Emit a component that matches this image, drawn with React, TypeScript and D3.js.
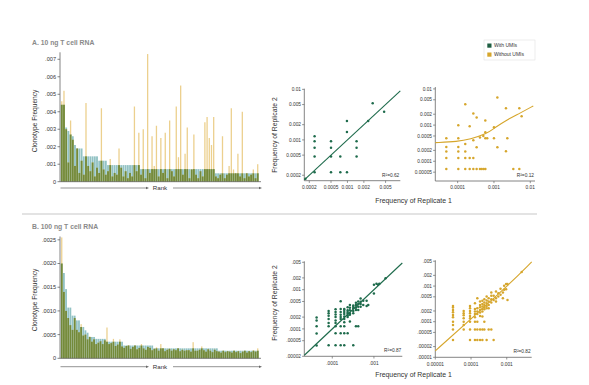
import React from "react";
import * as d3 from "d3";

const FONT = "'Liberation Sans', Arial, Helvetica, sans-serif";

// ---- rank-abundance bars, 10 ng ----
const withUmiA = [
  0.0044, 0.0044, 0.0031, 0.0029, 0.0027, 0.0026, 0.0021, 0.0019, 0.0019, 0.0019,
  0.00145, 0.00145, 0.00145, 0.00145, 0.00145, 0.00145, 0.00145, 0.0012, 0.0012, 0.0012,
  0.0012, 0.00095, 0.00095, 0.00095, 0.00095, 0.00095, 0.00095, 0.00095, 0.00095, 0.00095,
  0.00095, 0.00095, 0.00095, 0.00095, 0.00095, 0.00095, 0.00072, 0.00072, 0.00072, 0.00072,
  0.00072, 0.00072, 0.00072, 0.00072, 0.00072, 0.00072, 0.00072, 0.00072, 0.00072, 0.00072,
  0.00072, 0.00072, 0.00072, 0.00072, 0.00072, 0.00072, 0.00072, 0.00072, 0.00072, 0.00072,
  0.00072, 0.00072, 0.00072, 0.00072, 0.00072, 0.00072, 0.00072, 0.00072, 0.00072, 0.00072,
  0.00048, 0.00048, 0.00048, 0.00048, 0.00048, 0.00048, 0.00048, 0.00048, 0.00048, 0.00048,
  0.00048, 0.00048, 0.00048, 0.00048, 0.00048, 0.00048, 0.00048, 0.00048, 0.00048, 0.00048,
];
const withoutUmiA = [
  0.0046, 0.0052, 0.003, 0.0011, 0.0035, 0.0024, 0.0009, 0.0019, 0.0005, 0.0012,
  0.0004, 0.0045, 0.0009, 0.0006, 0.0011, 0.0003, 0.0008, 0.0005, 0.0042, 0.0007,
  0.0004, 0.0006, 0.0013, 0.0003, 0.0005, 0.0004, 0.0019, 0.0008, 0.0003, 0.0006,
  0.0002, 0.0005, 0.0003, 0.0043, 0.0006, 0.0028, 0.0004, 0.003, 0.0002, 0.0073,
  0.0005, 0.0026, 0.0009, 0.0032, 0.0003, 0.0025, 0.0005, 0.0028, 0.0002, 0.0035,
  0.0006, 0.0003, 0.0043, 0.0014, 0.0055, 0.0004, 0.0016, 0.0031, 0.0002, 0.0007,
  0.0027, 0.0004, 0.0002, 0.0006, 0.0003, 0.0034, 0.0037, 0.0025, 0.0021, 0.0037,
  0.0003, 0.0002, 0.0004, 0.0026, 0.0002, 0.0004, 0.0009, 0.0042, 0.0007, 0.0005,
  0.0016, 0.0003, 0.004, 0.0002, 0.0005, 0.0003, 0.0004, 0.0007, 0.0002, 0.001,
];
const barTicksA = [0, 0.001, 0.002, 0.003, 0.004, 0.005, 0.006, 0.007];
const barTickLabelsA = ["0", ".001", ".002", ".003", ".004", ".005", ".006", ".007"];

// ---- rank-abundance bars, 100 ng ----
const withUmiB = [
  0.002, 0.0018, 0.00146, 0.00107, 0.00107, 0.0009, 0.0009, 0.0008, 0.0008, 0.00066,
  0.00066, 0.00059, 0.00054, 0.00045, 0.00045, 0.00045, 0.00041, 0.00041, 0.00041, 0.00041,
  0.00041, 0.00035, 0.00035, 0.00035, 0.00035, 0.00035, 0.00035, 0.00035, 0.00035, 0.00027,
  0.00027, 0.00027, 0.00027, 0.00027, 0.00027, 0.00027, 0.00027, 0.00027, 0.00027, 0.00027,
  0.00027, 0.00027, 0.00027, 0.00021, 0.00021, 0.00021, 0.00021, 0.00021, 0.00021, 0.00021,
  0.00021, 0.00021, 0.00021, 0.00021, 0.00021, 0.00021, 0.00021, 0.00021, 0.00021, 0.00021,
  0.00021, 0.00021, 0.00021, 0.00021, 0.00021, 0.00021, 0.00021, 0.00021, 0.00021, 0.00021,
  0.00021, 0.00021, 0.00021, 0.00016, 0.00016, 0.00016, 0.00016, 0.00016, 0.00016, 0.00016,
  0.00016, 0.00016, 0.00016, 0.00016, 0.00016, 0.00016, 0.00016, 0.00016, 0.00016, 0.00016,
  0.00016, 0.00016,
];
const withoutUmiB = [
  0.00255, 0.0014, 0.001, 0.00085, 0.0007, 0.0006, 0.00085, 0.0006, 0.00055, 0.00072,
  0.00048, 0.0005, 0.0004, 0.00046, 0.00035, 0.0004, 0.0003, 0.00033, 0.00036, 0.0003,
  0.00038, 0.00065, 0.0003, 0.00032, 0.00041, 0.00026, 0.00029, 0.0004, 0.00025, 0.00022,
  0.00026, 0.00028, 0.0002, 0.00024, 0.00027, 0.00019, 0.00022, 0.0003, 0.00021, 0.00018,
  0.00024, 0.00022, 0.00017, 0.0002, 0.00023, 0.00016, 0.0003, 0.00021, 0.00015, 0.00018,
  0.0002, 0.00016, 0.00019, 0.00017, 0.00021, 0.00015, 0.00018, 0.00016, 0.00017, 0.00017,
  0.00014, 0.00034, 0.00016, 0.00016, 0.00018, 0.00025, 0.00017, 0.00014, 0.00019, 0.00016,
  0.00013, 0.00018, 0.00015, 0.00014, 0.00012, 0.00016, 0.00013, 0.00015, 0.00014, 0.00012,
  0.00016, 0.00013, 0.00015, 0.00011, 0.00014, 0.00016, 0.00012, 0.00015, 0.00013, 0.00017,
  0.00014, 0.00021,
];
const barTicksB = [0, 0.0005, 0.001, 0.0015, 0.002, 0.0025];
const barTickLabelsB = ["0", ".0005", ".0010", ".0015", ".0020", ".0025"];

// ---- replicate scatter, 10 ng ----
const repA_with: [number, number][] = [
  [0.00025, 0.00118], [0.00025, 0.00094], [0.00025, 0.0007], [0.00025, 0.00047], [0.00025, 0.00023],
  [0.0005, 0.00094], [0.0005, 0.0007], [0.0005, 0.00047], [0.0005, 0.00023],
  [0.00074, 0.00047], [0.00074, 0.00023],
  [0.00098, 0.00237], [0.00098, 0.00144], [0.00098, 0.00023],
  [0.00147, 0.00094], [0.00147, 0.0007], [0.00147, 0.00047],
  [0.0024, 0.00237], [0.0029, 0.0053], [0.0047, 0.0036], [0.00017, 0.00017],
];
const repA_without: [number, number][] = [
  [0.0000487, 0.000433], [0.0000487, 0.000249], [0.0000487, 0.000185], [0.0000487, 0.000123], [0.0000487, 0.0000612],
  [0.000104, 0.00099], [0.000104, 0.000433], [0.000104, 0.000249], [0.000104, 0.000185], [0.000104, 0.000123], [0.000104, 0.0000612],
  [0.000162, 0.00378], [0.000162, 0.000301], [0.000162, 0.000185], [0.000162, 0.000123], [0.000162, 0.0000612],
  [0.000214, 0.00093], [0.000214, 0.000123], [0.000214, 0.0000612],
  [0.00027, 0.00208], [0.00027, 0.000381], [0.00027, 0.000123], [0.00027, 0.0000612],
  [0.000333, 0.00161], [0.000333, 0.000244], [0.000333, 0.0000612],
  [0.000411, 0.000451], [0.000411, 0.0000612], [0.00046, 0.0000612], [0.00052, 0.0000612], [0.00058, 0.0000612],
  [0.000508, 0.0005], [0.000577, 0.00133], [0.000577, 0.000634], [0.000577, 0.000433], [0.00065, 0.000433],
  [0.001, 0.00087], [0.001, 0.000433],
  [0.00124, 0.00575], [0.00124, 0.000244],
  [0.00214, 0.00292], [0.00214, 0.000189], [0.00233, 0.000433],
  [0.00341, 0.0000612], [0.00499, 0.00292], [0.00499, 0.0000612], [0.00578, 0.00176],
];
const fitA_with: [number, number][] = [[0.000162, 0.000162], [0.0093, 0.0093]];
const fitA_without: [number, number][] = [
  [0.0000242, 0.000327], [0.0001, 0.00035], [0.000218, 0.000406], [0.00063, 0.00057],
  [0.001, 0.00082], [0.00224, 0.00139], [0.0052, 0.00213], [0.0121, 0.00339],
];

// ---- replicate scatter, 100 ng ----
const repB_with: [number, number][] = [
  [0.0000421, 0.000195], [0.0000421, 0.000164], [0.0000421, 0.000116], [0.0000421, 0.0000763], [0.0000421, 0.0000375],
  [0.0000818, 0.000287], [0.0000818, 0.000251], [0.0000818, 0.000215], [0.0000818, 0.000178], [0.0000818, 0.000141], [0.0000818, 0.000116], [0.0000818, 0.0000383],
  [0.00012, 0.000316], [0.00012, 0.000271], [0.00012, 0.000232], [0.00012, 0.0002], [0.00012, 0.000164], [0.00012, 0.000141], [0.00012, 0.000116], [0.00012, 0.0000778], [0.00012, 0.0000383],
  [0.000159, 0.00051], [0.000159, 0.000322], [0.000159, 0.000271], [0.000159, 0.000228], [0.000159, 0.0002], [0.000159, 0.000178], [0.000159, 0.000116], [0.000159, 0.0000778], [0.000159, 0.0000383],
  [0.000194, 0.000322], [0.000194, 0.000304], [0.000194, 0.000271], [0.000194, 0.000241], [0.000194, 0.000207], [0.000194, 0.000178], [0.000194, 0.000147], [0.000194, 0.000116], [0.000194, 0.0000778], [0.000194, 0.0000383],
  [0.000234, 0.000355], [0.000234, 0.000298], [0.000234, 0.000271], [0.000234, 0.000251], [0.000234, 0.000224], [0.000234, 0.0002], [0.000234, 0.0000778],
  [0.000265, 0.000405], [0.000265, 0.000348], [0.000265, 0.000298], [0.000265, 0.000251], [0.000265, 0.000228], [0.000265, 0.000155],
  [0.000319, 0.000398], [0.000319, 0.000368], [0.000319, 0.000334], [0.000319, 0.000287], [0.000319, 0.000251], [0.000319, 0.0000383],
  [0.00037, 0.000463], [0.00037, 0.000405], [0.00037, 0.000348], [0.00037, 0.000304], [0.00037, 0.000116],
  [0.00042, 0.0005], [0.00042, 0.00043], [0.00042, 0.000368], [0.00042, 0.000304], [0.00042, 0.000116],
  [0.000479, 0.000596], [0.000479, 0.00049], [0.000479, 0.00043], [0.000479, 0.000368],
  [0.000554, 0.00052], [0.000554, 0.000405], [0.000667, 0.00052], [0.000667, 0.000383], [0.00073, 0.000405],
  [0.001, 0.000794], [0.001, 0.00133], [0.00115, 0.00141], [0.00126, 0.00133], [0.00135, 0.00141], [0.0019, 0.00195],
];
const repB_without: [number, number][] = [
  [0.0000313, 0.000278], [0.0000313, 0.000249], [0.0000313, 0.000214], [0.0000313, 0.000184], [0.0000313, 0.000155], [0.0000313, 0.000133], [0.0000313, 0.0001], [0.0000313, 0.0000807], [0.0000313, 0.0000608], [0.0000313, 0.0000304],
  [0.0000624, 0.000201], [0.0000624, 0.000172], [0.0000624, 0.000151], [0.0000624, 0.000124], [0.0000624, 0.0001], [0.0000624, 0.0000807], [0.0000624, 0.0000608],
  [0.0000938, 0.000278], [0.0000938, 0.000239], [0.0000938, 0.000201], [0.0000938, 0.000172], [0.0000938, 0.000145], [0.0000938, 0.000124], [0.0000938, 0.0001], [0.0000938, 0.0000608], [0.0000938, 0.0000304],
  [0.000129, 0.00033], [0.000129, 0.000229], [0.000129, 0.000192], [0.000129, 0.000165], [0.000129, 0.000133], [0.000129, 0.0001], [0.000129, 0.0000608], [0.000129, 0.0000304],
  [0.00015, 0.000457], [0.00015, 0.000239], [0.00015, 0.000192], [0.00015, 0.000165], [0.00015, 0.0001], [0.00015, 0.0000608], [0.00015, 0.0000304],
  [0.000179, 0.000368], [0.000179, 0.000296], [0.000179, 0.000255], [0.000179, 0.000214], [0.000179, 0.00018], [0.000179, 0.000145], [0.000179, 0.0000608], [0.000179, 0.0000304],
  [0.000208, 0.000385], [0.000208, 0.000316], [0.000208, 0.000266], [0.000208, 0.000229], [0.000208, 0.000192], [0.000208, 0.000139], [0.000208, 0.0000608], [0.000208, 0.0000304],
  [0.000236, 0.000428], [0.000236, 0.000345], [0.000236, 0.000296], [0.000236, 0.000255], [0.000236, 0.000224], [0.000236, 0.0001], [0.000236, 0.0000608],
  [0.000274, 0.000509], [0.000274, 0.000393], [0.000274, 0.00033], [0.000274, 0.000278], [0.000274, 0.000239], [0.000274, 0.0000304],
  [0.000312, 0.000457], [0.000312, 0.000368], [0.000312, 0.000296], [0.000312, 0.000239], [0.000312, 0.0000608],
  [0.00037, 0.00066], [0.00037, 0.000532], [0.00037, 0.000428], [0.00037, 0.000345], [0.00037, 0.0000608],
  [0.00043, 0.000532], [0.00043, 0.00041], [0.00043, 0.0000304],
  [0.0005, 0.000705], [0.0005, 0.000457], [0.0005, 0.000368],
  [0.00058, 0.000632], [0.00058, 0.000509], [0.00067, 0.000839], [0.00067, 0.000567],
  [0.00078, 0.00066], [0.00078, 0.000457], [0.000845, 0.00102], [0.000845, 0.000786],
  [0.00096, 0.00114], [0.00096, 0.00082], [0.00105, 0.00114], [0.00105, 0.00041], [0.00262, 0.00248],
];
const fitB_with: [number, number][] = [[0.0000213, 0.0000213], [0.0048, 0.0048]];
const fitB_without: [number, number][] = [
  [0.00001, 0.0000152], [0.0001, 0.00012], [0.001, 0.00096], [0.005, 0.00477],
];

const TEAL = "#92c2c4";
const GOLD_BAR = "#ecd08e";
const OVERLAP = "#738a3a";
const GREEN = "#1e6b4c";
const GOLD = "#d6a62c";
const AXIS = "#666";
const TXT = "#333";

type BarProps = {
  withVals: number[];
  withoutVals: number[];
  yMax: number;
  yBase: number;
  yTop: number;
  ticks: number[];
  tickLabels: string[];
  arrowY: number;
};

function RankBars({ withVals, withoutVals, yMax, yBase, yTop, ticks, tickLabels, arrowY }: BarProps) {
  const x0 = 60;
  const x1 = 259;
  const x = d3.scaleBand<number>().domain(d3.range(withVals.length)).range([x0 + 0.5, x1]).padding(0.16);
  const y = d3.scaleLinear().domain([0, yMax]).range([yBase, yTop]);
  const bw = x.bandwidth();
  const nw = bw * 0.7; // the without-UMI bars read thinner where they stand above the teal
  const tri = (tx: number) => `M${tx},${arrowY} L${tx - 3},${arrowY - 1.3} L${tx - 3},${arrowY + 1.3} Z`;
  return (
    <g>
      {withVals.map((v, i) => (
        <rect key={"t" + i} x={x(i)} width={bw} y={y(v)} height={yBase - y(v)} fill={TEAL} />
      ))}
      {withoutVals.map((v, i) => (
        <rect key={"g" + i} x={(x(i) ?? 0) + (bw - nw) / 2} width={nw} y={y(v)} height={yBase - y(v)} fill={GOLD_BAR} />
      ))}
      {withVals.map((v, i) => {
        const m = Math.min(v, withoutVals[i]);
        return <rect key={"o" + i} x={x(i)} width={bw} y={y(m)} height={yBase - y(m)} fill={OVERLAP} />;
      })}
      <line x1={x0} x2={x0} y1={yTop} y2={yBase} stroke={AXIS} strokeWidth={0.8} />
      <line x1={x0} x2={x1 + 2} y1={yBase} y2={yBase} stroke={AXIS} strokeWidth={0.8} />
      {ticks.map((t, i) => (
        <g key={t}>
          <line x1={x0 - 2.5} x2={x0} y1={y(t)} y2={y(t)} stroke={AXIS} strokeWidth={0.8} />
          <text x={x0 - 4} y={y(t)} dy="0.35em" textAnchor="end" fontSize={5.6} fill={TXT}>
            {tickLabels[i]}
          </text>
        </g>
      ))}
      <line x1={x0 + 0.5} x2={146} y1={arrowY} y2={arrowY} stroke={AXIS} strokeWidth={0.7} />
      <path d={tri(149)} fill={AXIS} />
      <text x={160} y={arrowY} dy="0.35em" textAnchor="middle" fontSize={6.2} fill={TXT}>
        Rank
      </text>
      <line x1={173} x2={259} y1={arrowY} y2={arrowY} stroke={AXIS} strokeWidth={0.7} />
      <path d={tri(262)} fill={AXIS} />
    </g>
  );
}

type ScatterProps = {
  points: [number, number][];
  fit: [number, number][];
  color: string;
  xDomain: [number, number];
  xRange: [number, number];
  yDomain: [number, number];
  yRange: [number, number];
  xTicks: number[];
  xTickLabels: string[];
  yTicks: number[];
  yTickLabels: string[];
  r2: string;
};

function Scatter(p: ScatterProps) {
  const x = d3.scaleLog().domain(p.xDomain).range(p.xRange);
  const y = d3.scaleLog().domain(p.yDomain).range(p.yRange);
  const [xl, xr] = p.xRange;
  const [yb, yt] = p.yRange;
  const line = d3
    .line<[number, number]>()
    .x((d) => x(d[0]))
    .y((d) => y(d[1]))
    .curve(d3.curveBasis);
  return (
    <g>
      <line x1={xl} x2={xl} y1={yb} y2={yt} stroke={AXIS} strokeWidth={0.8} />
      <line x1={xl} x2={xr} y1={yb} y2={yb} stroke={AXIS} strokeWidth={0.8} />
      {p.yTicks.map((t, i) => (
        <g key={"y" + t}>
          <line x1={xl - 2.2} x2={xl} y1={y(t)} y2={y(t)} stroke={AXIS} strokeWidth={0.7} />
          <text x={xl - 3.3} y={y(t)} dy="0.35em" textAnchor="end" fontSize={4.8} fill={TXT}>
            {p.yTickLabels[i]}
          </text>
        </g>
      ))}
      {p.xTicks.map((t, i) => (
        <g key={"x" + t}>
          <line x1={x(t)} x2={x(t)} y1={yb} y2={yb + 2.2} stroke={AXIS} strokeWidth={0.7} />
          <text x={x(t)} y={yb + 6.8} dy="0.35em" textAnchor="middle" fontSize={4.8} fill={TXT}>
            {p.xTickLabels[i]}
          </text>
        </g>
      ))}
      <path d={line(p.fit) ?? ""} fill="none" stroke={p.color} strokeWidth={1.1} />
      {p.points.map((d, i) => (
        <circle key={i} cx={x(d[0])} cy={y(d[1])} r={1.25} fill={p.color} />
      ))}
      <text x={xr - 1} y={yb - 4} textAnchor="end" fontSize={4.8} fill={TXT}>
        {p.r2}
      </text>
    </g>
  );
}

export default function App() {
  return (
    <div style={{ position: "absolute", left: 0, top: 0 }}>
      <svg width={589} height={385} fontFamily={FONT} style={{ display: "block", background: "#fff" }}>
        {/* Panel A */}
        <text x={32} y={45} fontSize={6.8} fontWeight="bold" fill="#8a8a8a">
          A. 10 ng T cell RNA
        </text>
        <text transform="translate(37,121) rotate(-90)" textAnchor="middle" fontSize={6.6} fill={TXT}>
          Clonotype Frequency
        </text>
        <RankBars
          withVals={withUmiA}
          withoutVals={withoutUmiA}
          yMax={0.0074}
          yBase={181.7}
          yTop={52.3}
          ticks={barTicksA}
          tickLabels={barTickLabelsA}
          arrowY={188}
        />
        <text transform="translate(277,135) rotate(-90)" textAnchor="middle" fontSize={6.8} fill={TXT}>
          Frequency of Replicate 2
        </text>
        <Scatter
          points={repA_with}
          fit={fitA_with}
          color={GREEN}
          xDomain={[0.000162, 0.0093]}
          xRange={[304.3, 400.3]}
          yDomain={[0.000156, 0.0103]}
          yRange={[180.7, 88.7]}
          xTicks={[0.0002, 0.0005, 0.001, 0.002, 0.005]}
          xTickLabels={["0.0002", "0.0005", "0.001", "0.002", "0.005"]}
          yTicks={[0.0002, 0.0005, 0.001, 0.002, 0.005, 0.01]}
          yTickLabels={["0.0002", "0.0005", "0.001", "0.002", "0.005", "0.01"]}
          r2="R²=0.62"
        />
        <Scatter
          points={repA_without}
          fit={fitA_without}
          color={GOLD}
          xDomain={[0.0000242, 0.0135]}
          xRange={[435.3, 535]}
          yDomain={[0.0000285, 0.0113]}
          yRange={[181, 87]}
          xTicks={[0.0001, 0.001, 0.01]}
          xTickLabels={["0.0001", "0.001", "0.01"]}
          yTicks={[0.00005, 0.0001, 0.0002, 0.0005, 0.001, 0.002, 0.005, 0.01]}
          yTickLabels={["0.00005", "0.0001", "0.0002", "0.0005", "0.001", "0.002", "0.005", "0.01"]}
          r2="R²=0.12"
        />
        <text x={413.5} y={203} textAnchor="middle" fontSize={6.9} fill={TXT}>
          Frequency of Replicate 1
        </text>

        {/* Legend */}
        <rect x={484} y={40} width={51} height={20} fill="#fff" stroke="#e2e2e2" strokeWidth={0.6} />
        <rect x={487.3} y={43.5} width={4.2} height={4.2} fill="#1f5e42" />
        <text x={494} y={45.6} dy="0.35em" fontSize={5} fill={TXT}>
          With UMIs
        </text>
        <rect x={487.3} y={52.5} width={4.2} height={4.2} fill={GOLD} />
        <text x={494} y={54.6} dy="0.35em" fontSize={5} fill={TXT}>
          Without UMIs
        </text>

        {/* separator */}
        <line x1={22} x2={537} y1={214} y2={214} stroke="#e3e3e3" strokeWidth={1.8} />

        {/* Panel B */}
        <text x={32} y={229} fontSize={6.8} fontWeight="bold" fill="#8a8a8a">
          B. 100 ng T cell RNA
        </text>
        <text transform="translate(37,300) rotate(-90)" textAnchor="middle" fontSize={6.6} fill={TXT}>
          Clonotype Frequency
        </text>
        <RankBars
          withVals={withUmiB}
          withoutVals={withoutUmiB}
          yMax={0.00257}
          yBase={358.3}
          yTop={236.5}
          ticks={barTicksB}
          tickLabels={barTickLabelsB}
          arrowY={366.7}
        />
        <text transform="translate(277,303) rotate(-90)" textAnchor="middle" fontSize={6.8} fill={TXT}>
          Frequency of Replicate 2
        </text>
        <Scatter
          points={repB_with}
          fit={fitB_with}
          color={GREEN}
          xDomain={[0.0000213, 0.0048]}
          xRange={[304.3, 402.3]}
          yDomain={[0.00002, 0.0053]}
          yRange={[356.3, 261.3]}
          xTicks={[0.0001, 0.001]}
          xTickLabels={[".0001", ".001"]}
          yTicks={[0.00002, 0.00005, 0.0001, 0.0002, 0.0005, 0.001, 0.002, 0.005]}
          yTickLabels={[".00002", ".00005", ".0001", ".0002", ".0005", ".001", ".002", ".005"]}
          r2="R²=0.87"
        />
        <Scatter
          points={repB_without}
          fit={fitB_without}
          color={GOLD}
          xDomain={[0.00001, 0.005]}
          xRange={[435.3, 531.7]}
          yDomain={[0.00001, 0.0053]}
          yRange={[357.3, 260.3]}
          xTicks={[0.00001, 0.0001, 0.001]}
          xTickLabels={["0.00001", "0.0001", "0.001"]}
          yTicks={[0.00001, 0.00002, 0.00005, 0.0001, 0.0002, 0.0005, 0.001, 0.002, 0.005]}
          yTickLabels={[".00001", ".00002", ".00005", ".0001", ".0002", ".0005", ".001", ".002", ".005"]}
          r2="R²=0.82"
        />
        <text x={413.5} y={377} textAnchor="middle" fontSize={6.9} fill={TXT}>
          Frequency of Replicate 1
        </text>
      </svg>
    </div>
  );
}
